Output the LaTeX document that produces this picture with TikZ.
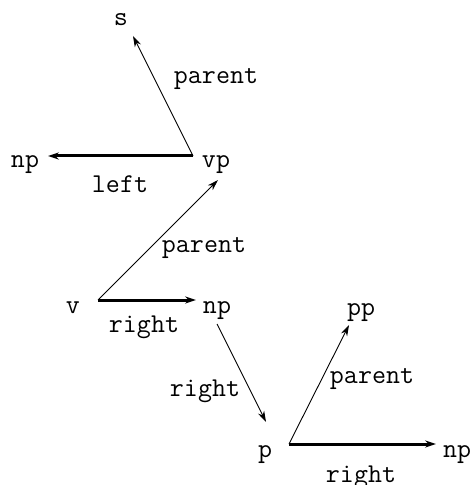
\documentclass[tikz,border=0pt]{standalone}
\usetikzlibrary{arrows.meta}
\begin{document}
\begin{tikzpicture}[x=0.5pt,y=-0.5pt,
  lbl/.style={anchor=base,inner sep=0pt,font=\fontsize{13.6}{16}\selectfont\ttfamily},
  thin/.style={line width=0.45pt,-{Stealth[length=5.5pt,width=3.4pt]}},
  thick/.style={line width=1.5pt,-{Stealth[length=5.5pt,width=3.6pt]}}]
\useasboundingbox (0,0) rectangle (471,485);
% text nodes
\node[lbl] (s) at (121,26) {s};
\node[lbl] (par1) at (216,84) {parent};
\node[lbl] (np1) at (25,168) {np};
\node[lbl] (vp) at (216,168) {vp};
\node[lbl] (left) at (120,193) {left};
\node[lbl] (par2) at (204,253) {parent};
\node[lbl] (v) at (73,313) {v};
\node[lbl] (np2) at (217,313) {np};
\node[lbl] (right1) at (144,332) {right};
\node[lbl] (right2) at (205,396) {right};
\node[lbl] (pp) at (361,315) {pp};
\node[lbl] (par3) at (372,383) {parent};
\node[lbl] (p) at (265,457) {p};
\node[lbl] (np3) at (457,457) {np};
\node[lbl] (right3) at (361,482) {right};
% connector end points
\coordinate (cvp) at (193,156);
\coordinate (ts) at (133,36);
\coordinate (tnp1) at (48,156);
\coordinate (cv) at (98,300);
\coordinate (tvp) at (218,180);
\coordinate (tnp2) at (196,300);
\coordinate (cnp2) at (217,324);
\coordinate (tp) at (266,422);
\coordinate (cp) at (289,444);
\coordinate (tpp) at (349,325);
\coordinate (tnp3) at (436,444);
% connectors
\draw[thin] (cvp) -- (ts);
\draw[thick] (cvp) -- (tnp1);
\draw[thin] (cv) -- (tvp);
\draw[thick] (cv) -- (tnp2);
\draw[thin] (cnp2) -- (tp);
\draw[thin] (cp) -- (tpp);
\draw[thick] (cp) -- (tnp3);
\end{tikzpicture}
\end{document}
